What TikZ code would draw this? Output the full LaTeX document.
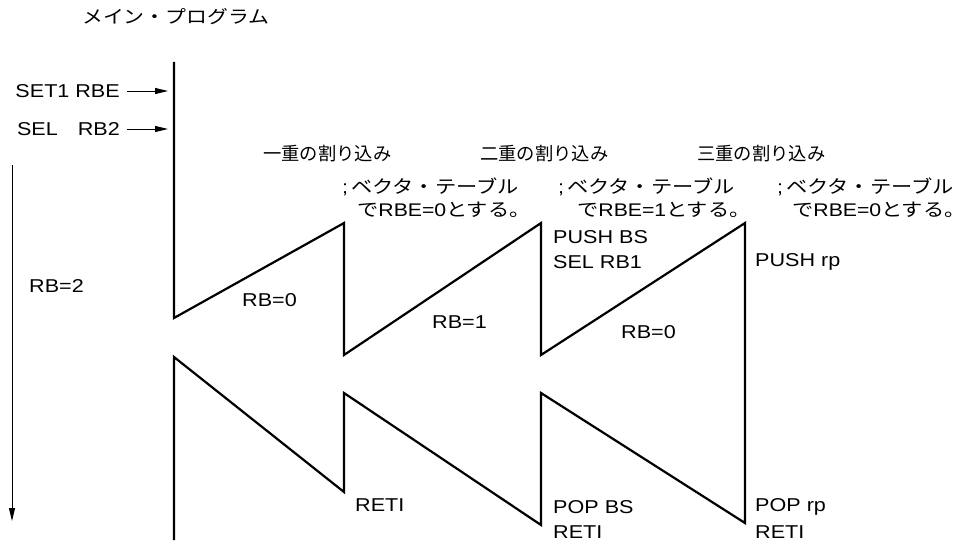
\documentclass[tikz,border=0pt]{standalone}
\usepackage{fontspec}
\setmainfont[FakeStretch=1.16]{Liberation Sans}
\newfontfamily\jp[FakeStretch=1.16]{Noto Sans CJK JP}
\newfontfamily\jpn{Noto Sans CJK JP}
\usetikzlibrary{arrows.meta}
\tikzset{
  lbl/.style={anchor=west, inner sep=0pt, font=\fontsize{18.6}{22}\selectfont},
  jlbl/.style={anchor=west, inner sep=0pt, font=\fontsize{18}{22}\selectfont\jp},
  hdr/.style={anchor=west, inner sep=0pt, font=\fontsize{18.3}{22}\selectfont\jpn},
  vec/.style={anchor=west, inner sep=0pt, font=\fontsize{18.3}{22}\selectfont},
  zig/.style={line width=2.2pt, line join=miter, black},
  thinarrow/.style={line width=0.9pt, -{Triangle[length=13pt,width=6pt]}},
}
\begin{document}
\begin{tikzpicture}[x=1pt,y=-1pt]
\useasboundingbox (0,0) rectangle (966,543);
% title
\node[jlbl] (title) at (82,17) {メイン・プログラム};
% left instructions
\node[lbl, anchor=east] (set1) at (120,91) {SET1 RBE};
\node[lbl, anchor=east] (sel) at (120,129) {SEL\hspace{20pt}RB2};
\coordinate (set1e) at (168,91);
\coordinate (sele) at (168,129);
\draw[thinarrow] ([xshift=7pt]set1.east) -- (set1e);
\draw[thinarrow] ([xshift=7pt]sel.east) -- (sele);
% left time arrow
\coordinate (ta) at (12,165);
\coordinate (tb) at (12,521);
\draw[thinarrow] (ta) -- (tb);
\node[lbl] (rb2) at (29,286) {RB=2};
% zigzag
\coordinate (p0) at (174,62);
\coordinate (p1) at (174,318);
\coordinate (p2) at (344,223);
\coordinate (p3) at (344,355);
\coordinate (p4) at (541,223);
\coordinate (p5) at (541,355);
\coordinate (p6) at (745,223);
\coordinate (p7) at (745,523);
\coordinate (p8) at (541,393);
\coordinate (p9) at (541,525);
\coordinate (p10) at (344,393);
\coordinate (p11) at (344,492);
\coordinate (p12) at (174,357);
\coordinate (p13) at (174,540);
\draw[zig] (p0) -- (p1) -- (p2) -- (p3) -- (p4) -- (p5) -- (p6) -- (p7) -- (p8) -- (p9) -- (p10) -- (p11) -- (p12) -- (p13);
% headers
\node[hdr] (h1) at (263,154) {一重の割り込み};
\node[hdr] (h2) at (480,154) {二重の割り込み};
\node[hdr] (h3) at (697,154) {三重の割り込み};
\node[vec] (v1a) at (342,187) {;\,{\jp ベクタ・テーブル}};
\node[vec] (v1b) at (357,210) {{\jp で}RBE=0{\jp とする。}};
\node[vec] (v2a) at (558,187) {;\,{\jp ベクタ・テーブル}};
\node[vec] (v2b) at (577,210) {{\jp で}RBE=1{\jp とする。}};
\node[vec] (v3a) at (777,187) {;\,{\jp ベクタ・テーブル}};
\node[vec] (v3b) at (792,210) {{\jp で}RBE=0{\jp とする。}};
% register bank labels
\node[lbl] (rb0a) at (242,300) {RB=0};
\node[lbl] (rb1) at (432,322) {RB=1};
\node[lbl] (rb0b) at (621,332) {RB=0};
% instructions
\node[lbl] (push1) at (553,237) {PUSH BS};
\node[lbl] (selrb1) at (553,262) {SEL RB1};
\node[lbl] (push2) at (755,262) {PUSH rp};
\node[lbl] (reti1) at (355,505) {RETI};
\node[lbl] (pop1) at (553,507) {POP BS};
\node[lbl] (reti2) at (553,532) {RETI};
\node[lbl] (pop2) at (755,507) {POP rp};
\node[lbl] (reti3) at (755,532) {RETI};
\end{tikzpicture}
\end{document}
